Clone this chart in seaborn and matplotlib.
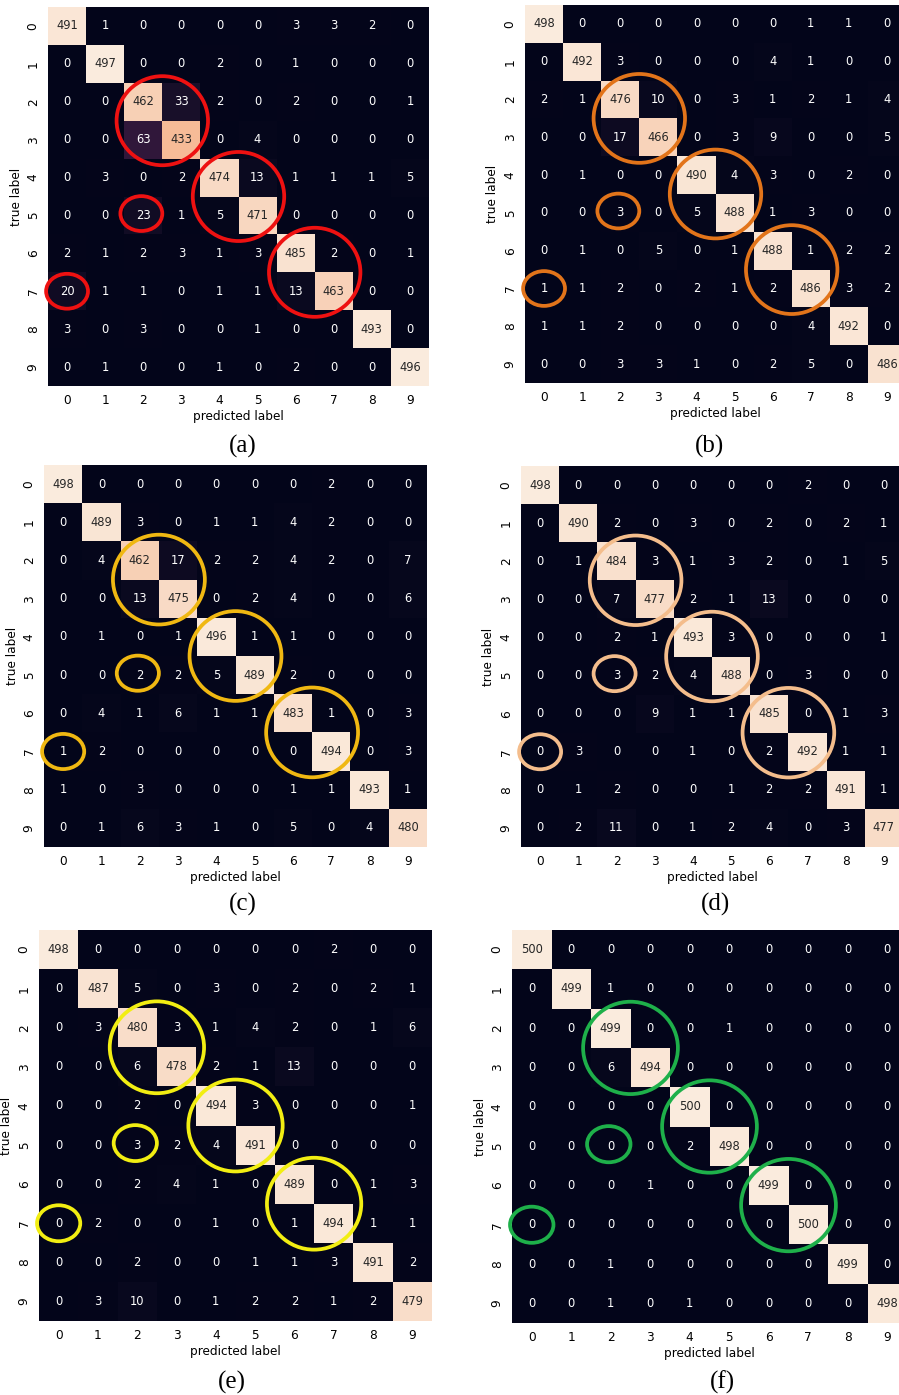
import matplotlib
matplotlib.use("Agg")
import matplotlib.pyplot as plt
from matplotlib.patches import Ellipse
import seaborn as sns
import numpy as np

digits = [str(i) for i in range(10)]

cm_a = [
	[491, 1, 0, 0, 0, 0, 3, 3, 2, 0],
	[0, 497, 0, 0, 2, 0, 1, 0, 0, 0],
	[0, 0, 462, 33, 2, 0, 2, 0, 0, 1],
	[0, 0, 63, 433, 0, 4, 0, 0, 0, 0],
	[0, 3, 0, 2, 474, 13, 1, 1, 1, 5],
	[0, 0, 23, 1, 5, 471, 0, 0, 0, 0],
	[2, 1, 2, 3, 1, 3, 485, 2, 0, 1],
	[20, 1, 1, 0, 1, 1, 13, 463, 0, 0],
	[3, 0, 3, 0, 0, 1, 0, 0, 493, 0],
	[0, 1, 0, 0, 1, 0, 2, 0, 0, 496],
]
cm_b = [
	[498, 0, 0, 0, 0, 0, 0, 1, 1, 0],
	[0, 492, 3, 0, 0, 0, 4, 1, 0, 0],
	[2, 1, 476, 10, 0, 3, 1, 2, 1, 4],
	[0, 0, 17, 466, 0, 3, 9, 0, 0, 5],
	[0, 1, 0, 0, 490, 4, 3, 0, 2, 0],
	[0, 0, 3, 0, 5, 488, 1, 3, 0, 0],
	[0, 1, 0, 5, 0, 1, 488, 1, 2, 2],
	[1, 1, 2, 0, 2, 1, 2, 486, 3, 2],
	[1, 1, 2, 0, 0, 0, 0, 4, 492, 0],
	[0, 0, 3, 3, 1, 0, 2, 5, 0, 486],
]
cm_c = [
	[498, 0, 0, 0, 0, 0, 0, 2, 0, 0],
	[0, 489, 3, 0, 1, 1, 4, 2, 0, 0],
	[0, 4, 462, 17, 2, 2, 4, 2, 0, 7],
	[0, 0, 13, 475, 0, 2, 4, 0, 0, 6],
	[0, 1, 0, 1, 496, 1, 1, 0, 0, 0],
	[0, 0, 2, 2, 5, 489, 2, 0, 0, 0],
	[0, 4, 1, 6, 1, 1, 483, 1, 0, 3],
	[1, 2, 0, 0, 0, 0, 0, 494, 0, 3],
	[1, 0, 3, 0, 0, 0, 1, 1, 493, 1],
	[0, 1, 6, 3, 1, 0, 5, 0, 4, 480],
]
cm_d = [
	[498, 0, 0, 0, 0, 0, 0, 2, 0, 0],
	[0, 490, 2, 0, 3, 0, 2, 0, 2, 1],
	[0, 1, 484, 3, 1, 3, 2, 0, 1, 5],
	[0, 0, 7, 477, 2, 1, 13, 0, 0, 0],
	[0, 0, 2, 1, 493, 3, 0, 0, 0, 1],
	[0, 0, 3, 2, 4, 488, 0, 3, 0, 0],
	[0, 0, 0, 9, 1, 1, 485, 0, 1, 3],
	[0, 3, 0, 0, 1, 0, 2, 492, 1, 1],
	[0, 1, 2, 0, 0, 1, 2, 2, 491, 1],
	[0, 2, 11, 0, 1, 2, 4, 0, 3, 477],
]
cm_e = [
	[498, 0, 0, 0, 0, 0, 0, 2, 0, 0],
	[0, 487, 5, 0, 3, 0, 2, 0, 2, 1],
	[0, 3, 480, 3, 1, 4, 2, 0, 1, 6],
	[0, 0, 6, 478, 2, 1, 13, 0, 0, 0],
	[0, 0, 2, 0, 494, 3, 0, 0, 0, 1],
	[0, 0, 3, 2, 4, 491, 0, 0, 0, 0],
	[0, 0, 2, 4, 1, 0, 489, 0, 1, 3],
	[0, 2, 0, 0, 1, 0, 1, 494, 1, 1],
	[0, 0, 2, 0, 0, 1, 1, 3, 491, 2],
	[0, 3, 10, 0, 1, 2, 2, 1, 2, 479],
]
cm_f = [
	[500, 0, 0, 0, 0, 0, 0, 0, 0, 0],
	[0, 499, 1, 0, 0, 0, 0, 0, 0, 0],
	[0, 0, 499, 0, 0, 1, 0, 0, 0, 0],
	[0, 0, 6, 494, 0, 0, 0, 0, 0, 0],
	[0, 0, 0, 0, 500, 0, 0, 0, 0, 0],
	[0, 0, 0, 0, 2, 498, 0, 0, 0, 0],
	[0, 0, 0, 1, 0, 0, 499, 0, 0, 0],
	[0, 0, 0, 0, 0, 0, 0, 500, 0, 0],
	[0, 0, 1, 0, 0, 0, 0, 0, 499, 0],
	[0, 0, 1, 0, 1, 0, 0, 0, 0, 498],
]

matrices = [cm_a, cm_b, cm_c, cm_d, cm_e, cm_f]
panel_names = ["(a)", "(b)", "(c)", "(d)", "(e)", "(f)"]
ring_colors = ["#ee1111", "#e2741a", "#f0b812", "#f4bd8c", "#f2ee12", "#1eb04a"]

W, H = 899, 1395
# axes boxes in pixels: left, top, right, bottom
boxes = [
	(48, 7, 429, 386),
	(525, 5, 906, 383),
	(44, 465, 427, 847),
	(521, 466, 903, 847),
	(39, 930, 432, 1321),
	(512, 930, 907, 1323),
]
label_pos = [(243, 446), (710, 446), (243, 904), (715, 904), (232, 1382), (722, 1382)]


def main():
	fig = plt.figure(figsize=(W / 100, H / 100), dpi=100)
	fig.patch.set_facecolor("white")

	for cm, name, col, box, lp in zip(matrices, panel_names, ring_colors, boxes, label_pos):
		l, t, r, b = box
		ax = fig.add_axes([l / W, 1 - b / H, (r - l) / W, (b - t) / H])
		sns.heatmap(np.array(cm), annot=True, fmt="d", cbar=False, ax=ax,
			xticklabels=digits, yticklabels=digits,
			annot_kws={"fontsize": 8.3})
		ax.tick_params(length=0, labelsize=8.7, pad=6)
		ax.set_yticklabels(digits, rotation=90, va="center")
		ax.set_xticklabels(digits, rotation=0)
		ax.set_xlabel("predicted label", fontsize=8.7, labelpad=2)
		ax.set_ylabel("true label", fontsize=8.7, labelpad=3)

		# rings around the confused blocks
		for k in (3, 5, 7):
			ax.add_patch(Ellipse((k, k), 2.4, 2.35, fill=False, ec=col, lw=2.7, clip_on=False))
		ax.add_patch(Ellipse((2.45, 5.45), 1.1, 0.92, fill=False, ec=col, lw=2.7, clip_on=False))
		ax.add_patch(Ellipse((0.5, 7.5), 1.1, 0.92, fill=False, ec=col, lw=2.7, clip_on=False))

		fig.text(lp[0] / W, 1 - lp[1] / H, name, ha="center", va="center",
			fontsize=18, family="Liberation Serif")

	fig.savefig("out.png", dpi=100)


if "__main__" == __name__:
	main()
